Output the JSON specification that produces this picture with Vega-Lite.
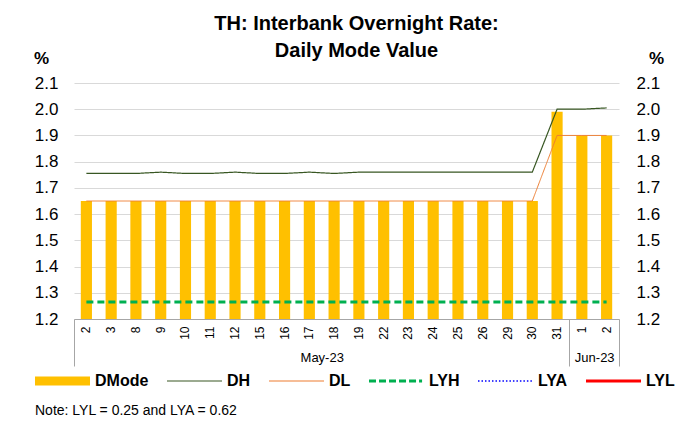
{
  "$schema": "https://vega.github.io/schema/vega-lite/v6.json",
  "width": 545,
  "height": 236,
  "autosize": {"type": "none"},
  "padding": {"left": 74, "top": 83, "right": 62, "bottom": 109},
  "background": "white",
  "title": {
    "text": ["TH: Interbank Overnight Rate:", "Daily Mode Value"],
    "fontSize": 20,
    "fontWeight": "bold",
    "font": "Liberation Sans",
    "color": "black",
    "anchor": "middle",
    "offset": -12,
    "lineHeight": 27,
    "dx": 10
  },
  "config": {
    "font": "Liberation Sans",
    "view": {"stroke": null},
    "axis": {"labelColor": "black", "titleColor": "black", "labelFont": "Liberation Sans", "titleFont": "Liberation Sans"},
    "legend": {"labelFont": "Liberation Sans", "titleFont": "Liberation Sans"}
  },
  "data": {
    "values": [
      {"d": "2023-05-02", "DMode": 1.65, "DH": 1.755, "DL": 1.65, "LYH": 1.265, "LYA": 0.62, "LYL": 0.25},
      {"d": "2023-05-03", "DMode": 1.65, "DH": 1.755, "DL": 1.65, "LYH": 1.265, "LYA": 0.62, "LYL": 0.25},
      {"d": "2023-05-08", "DMode": 1.65, "DH": 1.755, "DL": 1.65, "LYH": 1.265, "LYA": 0.62, "LYL": 0.25},
      {"d": "2023-05-09", "DMode": 1.65, "DH": 1.76, "DL": 1.65, "LYH": 1.265, "LYA": 0.62, "LYL": 0.25},
      {"d": "2023-05-10", "DMode": 1.65, "DH": 1.755, "DL": 1.65, "LYH": 1.265, "LYA": 0.62, "LYL": 0.25},
      {"d": "2023-05-11", "DMode": 1.65, "DH": 1.755, "DL": 1.65, "LYH": 1.265, "LYA": 0.62, "LYL": 0.25},
      {"d": "2023-05-12", "DMode": 1.65, "DH": 1.76, "DL": 1.65, "LYH": 1.265, "LYA": 0.62, "LYL": 0.25},
      {"d": "2023-05-15", "DMode": 1.65, "DH": 1.755, "DL": 1.65, "LYH": 1.265, "LYA": 0.62, "LYL": 0.25},
      {"d": "2023-05-16", "DMode": 1.65, "DH": 1.755, "DL": 1.65, "LYH": 1.265, "LYA": 0.62, "LYL": 0.25},
      {"d": "2023-05-17", "DMode": 1.65, "DH": 1.76, "DL": 1.65, "LYH": 1.265, "LYA": 0.62, "LYL": 0.25},
      {"d": "2023-05-18", "DMode": 1.65, "DH": 1.755, "DL": 1.65, "LYH": 1.265, "LYA": 0.62, "LYL": 0.25},
      {"d": "2023-05-19", "DMode": 1.65, "DH": 1.76, "DL": 1.65, "LYH": 1.265, "LYA": 0.62, "LYL": 0.25},
      {"d": "2023-05-22", "DMode": 1.65, "DH": 1.76, "DL": 1.65, "LYH": 1.265, "LYA": 0.62, "LYL": 0.25},
      {"d": "2023-05-23", "DMode": 1.65, "DH": 1.76, "DL": 1.65, "LYH": 1.265, "LYA": 0.62, "LYL": 0.25},
      {"d": "2023-05-24", "DMode": 1.65, "DH": 1.76, "DL": 1.65, "LYH": 1.265, "LYA": 0.62, "LYL": 0.25},
      {"d": "2023-05-25", "DMode": 1.65, "DH": 1.76, "DL": 1.65, "LYH": 1.265, "LYA": 0.62, "LYL": 0.25},
      {"d": "2023-05-26", "DMode": 1.65, "DH": 1.76, "DL": 1.65, "LYH": 1.265, "LYA": 0.62, "LYL": 0.25},
      {"d": "2023-05-29", "DMode": 1.65, "DH": 1.76, "DL": 1.65, "LYH": 1.265, "LYA": 0.62, "LYL": 0.25},
      {"d": "2023-05-30", "DMode": 1.65, "DH": 1.76, "DL": 1.65, "LYH": 1.265, "LYA": 0.62, "LYL": 0.25},
      {"d": "2023-05-31", "DMode": 1.99, "DH": 2.0, "DL": 1.9, "LYH": 1.265, "LYA": 0.62, "LYL": 0.25},
      {"d": "2023-06-01", "DMode": 1.9, "DH": 2.0, "DL": 1.9, "LYH": 1.265, "LYA": 0.62, "LYL": 0.25},
      {"d": "2023-06-02", "DMode": 1.9, "DH": 2.005, "DL": 1.9, "LYH": 1.265, "LYA": 0.62, "LYL": 0.25}
    ]
  },
  "layer": [
    {
      "transform": [
        {"fold": ["DMode", "DH", "DL", "LYH", "LYA", "LYL"], "as": ["series", "value"]},
        {"filter": "datum.series === 'DMode'"}
      ],
      "mark": {"type": "bar", "color": "#FFC000", "clip": true},
      "encoding": {
        "x": {
          "field": "d", "type": "nominal",
          "scale": {"paddingInner": 0.55, "paddingOuter": 0.275},
          "axis": {"labelExpr": "toNumber(slice(datum.value, 8))", "labelAngle": -90, "labelFontSize": 12, "labelPadding": 7, "ticks": false, "domainColor": "#A6A6A6", "title": null, "grid": false}
        },
        "y": {
          "field": "value", "type": "quantitative",
          "scale": {"domain": [1.2, 2.1], "nice": false, "zero": false},
          "axis": {"values": [1.2, 1.3, 1.4, 1.5, 1.6, 1.7, 1.8, 1.9, 2.0, 2.1], "format": ".1f", "labelFontSize": 17, "labelPadding": 16, "ticks": false, "domain": false, "gridColor": "#D9D9D9", "title": "%", "titleAngle": 0, "titleFontSize": 17, "titleFontWeight": "bold", "titleX": -33, "titleY": -20, "titleAlign": "center", "titleBaseline": "alphabetic"}
        },
        "color": {
          "field": "series", "type": "nominal",
          "scale": {"domain": ["DMode", "DH", "DL", "LYH", "LYA", "LYL"], "range": ["#FFC000", "#385723", "#ED7D31", "#00B050", "#0000FF", "#FF0000"]},
          "legend": {
            "orient": "none", "legendX": -39, "legendY": 289,
            "direction": "horizontal", "columns": 6,
            "symbolSize": 3025, "symbolStrokeWidth": 0, "clipHeight": 18,
            "labelFontSize": 16, "labelFontWeight": "bold", "labelColor": "black", "labelOffset": 5, "labelLimit": 200,
            "columnPadding": 18,
            "title": "Note: LYL = 0.25 and LYA = 0.62",
            "titleOrient": "bottom", "titleAnchor": "start", "titleFontSize": 14, "titleFontWeight": "normal", "titleColor": "black", "titlePadding": 14, "titleLimit": 400,
            "encode": {
              "symbols": {
                "update": {
                  "fill": {"scale": "color", "field": "value"},
                  "stroke": {"value": "transparent"},
                  "opacity": {"value": 1},
                  "fillOpacity": {"value": 1},
                  "shape": {"signal": "datum.value === 'DMode' ? 'M-1,-0.164H1V0.164H-1Z' : datum.value === 'LYL' ? 'M-1,-0.055H1V0.055H-1Z' : datum.value === 'LYH' ? 'M-1,-0.055H-0.745V0.055H-1ZM-0.636,-0.055H-0.381V0.055H-0.636ZM-0.272,-0.055H-0.017V0.055H-0.272ZM0.092,-0.055H0.347V0.055H0.092ZM0.456,-0.055H0.711V0.055H0.456ZM0.82,-0.055H0.93V0.055H0.82Z' : datum.value === 'LYA' ? 'M-1,-0.03h0.055v0.06h-0.055ZM-0.873,-0.03h0.055v0.06h-0.055ZM-0.746,-0.03h0.055v0.06h-0.055ZM-0.619,-0.03h0.055v0.06h-0.055ZM-0.492,-0.03h0.055v0.06h-0.055ZM-0.365,-0.03h0.055v0.06h-0.055ZM-0.238,-0.03h0.055v0.06h-0.055ZM-0.111,-0.03h0.055v0.06h-0.055ZM0.016,-0.03h0.055v0.06h-0.055ZM0.143,-0.03h0.055v0.06h-0.055ZM0.27,-0.03h0.055v0.06h-0.055ZM0.397,-0.03h0.055v0.06h-0.055ZM0.524,-0.03h0.055v0.06h-0.055ZM0.651,-0.03h0.055v0.06h-0.055ZM0.778,-0.03h0.055v0.06h-0.055ZM0.905,-0.03h0.055v0.06h-0.055Z' : 'M-1,-0.02H1V0.02H-1Z'"}
                }
              }
            }
          }
        }
      }
    },
    {
      "transform": [
        {"fold": ["DMode", "DH", "DL", "LYH", "LYA", "LYL"], "as": ["series", "value"]},
        {"filter": "datum.series !== 'DMode'"}
      ],
      "mark": {"type": "line", "clip": true},
      "encoding": {
        "x": {"field": "d", "type": "nominal", "scale": {"paddingInner": 0.55, "paddingOuter": 0.275}, "axis": null},
        "y": {
          "field": "value", "type": "quantitative",
          "scale": {"domain": [1.2, 2.1], "nice": false, "zero": false},
          "axis": {"orient": "right", "values": [1.2, 1.3, 1.4, 1.5, 1.6, 1.7, 1.8, 1.9, 2.0, 2.1], "format": ".1f", "labelFontSize": 17, "labelPadding": 17, "ticks": false, "domain": false, "grid": false, "title": "%", "titleAngle": 0, "titleFontSize": 17, "titleFontWeight": "bold", "titleX": 37, "titleY": -20, "titleAlign": "center", "titleBaseline": "alphabetic"}
        },
        "color": {
          "field": "series", "type": "nominal",
          "scale": {"domain": ["DMode", "DH", "DL", "LYH", "LYA", "LYL"], "range": ["#FFC000", "#385723", "#ED7D31", "#00B050", "#0000FF", "#FF0000"]}
        },
        "strokeDash": {
          "field": "series", "type": "nominal",
          "scale": {"type": "ordinal", "domain": ["DH", "DL", "LYH", "LYA", "LYL"], "range": [[1, 0], [1, 0], [7, 4], [2, 2], [1, 0]]},
          "legend": null
        },
        "strokeWidth": {
          "field": "series", "type": "nominal",
          "scale": {"type": "ordinal", "domain": ["DH", "DL", "LYH", "LYA", "LYL"], "range": [1.2, 1, 3, 2, 3]},
          "legend": null
        }
      }
    },
    {
      "data": {"values": [{"pos": 0}, {"pos": 20}, {"pos": 22}]},
      "mark": {"type": "rule", "opacity": 0},
      "encoding": {
        "x": {
          "field": "pos", "type": "quantitative",
          "scale": {"domain": [0, 22], "nice": false, "zero": false},
          "axis": {"orient": "bottom", "values": [0, 20, 22], "labels": false, "domain": false, "grid": false, "ticks": true, "tickSize": 47, "tickColor": "#A6A6A6", "title": null}
        }
      }
    },
    {
      "data": {"values": [{"pos": 10, "month": "May-23"}, {"pos": 21, "month": "Jun-23"}]},
      "mark": {"type": "rule", "opacity": 0},
      "encoding": {
        "x": {
          "field": "pos", "type": "quantitative",
          "scale": {"domain": [0, 22], "nice": false, "zero": false},
          "axis": {"orient": "bottom", "values": [10, 21], "labelExpr": "datum.value == 10 ? 'May-23' : 'Jun-23'", "labelFontSize": 13, "labelPadding": 32, "domain": false, "grid": false, "ticks": false, "title": null}
        }
      }
    }
  ],
  "resolve": {"scale": {"x": "independent", "y": "independent"}}
}
